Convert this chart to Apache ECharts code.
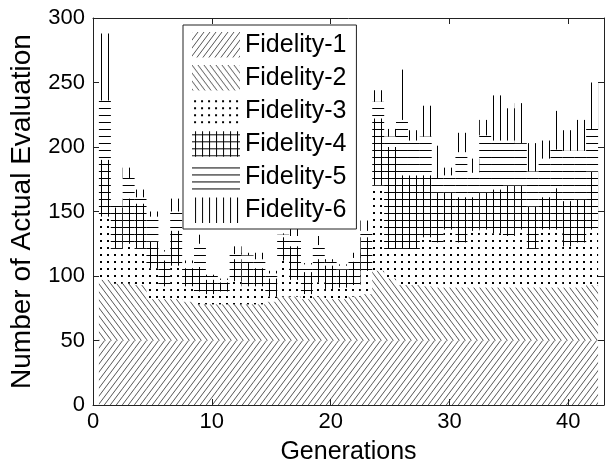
<!DOCTYPE html>
<html>
<head>
<meta charset="utf-8">
<script src="https://cdn.jsdelivr.net/npm/echarts@6/dist/echarts.min.js"></script>
<style>
html,body{margin:0;padding:0;background:#fff;}
#chart{width:609px;height:470px;}
</style>
</head>
<body>
<div id="chart"></div>
<script>
const generations = [1,2,3,4,5,6,7,8,9,10,11,12,13,14,15,16,17,18,19,20,21,22,23,24,25,26,27,28,29,30,31,32,33,34,35,36,37,38,39,40,41,42];
const seriesNames = ['Fidelity-1','Fidelity-2','Fidelity-3','Fidelity-4','Fidelity-5','Fidelity-6'];
const fidelity1 = [50,50,50,50,50,50,50,50,50,50,50,50,50,50,50,50,50,50,50,50,50,50,50,50,50,50,50,50,50,50,50,50,50,50,50,50,50,50,50,50,50,50];
const fidelity2 = [47,44,44,43,32,32,32,30,28,28,28,28,28,28,30,34,34,32,34,32,32,34,36,54,48,43,43,42,41,41,41,41,41,41,41,41,41,41,41,41,41,43];
const fidelity3 = [49,27,31,28,24,10,26,12,10,8,10,18,14,14,4,28,13,4,11,8,9,9,18,66,23,28,28,38,35,45,35,44,45,42,40,45,30,45,45,32,35,43];
const fidelity4 = [44,32,35,35,21,20,27,14,19,11,7,17,18,14,14,18,26,17,18,18,14,18,26,52,79,57,57,48,39,29,35,26,29,34,39,34,33,25,32,35,33,45];
const fidelity5 = [46,5,16,5,19,7,15,4,18,3,2,4,6,7,4,2,8,6,11,3,3,3,5,13,8,43,27,30,11,13,35,19,44,38,35,33,27,30,30,39,38,33];
const fidelity6 = [52,0,8,6,4,1,10,2,7,1,1,6,2,5,2,1,14,1,7,2,1,4,8,9,6,39,8,24,25,6,15,11,12,35,25,31,22,14,30,16,24,36];
const xTicks = [0,10,20,30,40];
const yTicks = [0,50,100,150,200,250,300];
const xMin = 0, xMax = 43;

const layers = [fidelity1,fidelity2,fidelity3,fidelity4,fidelity5,fidelity6];

const xCategories = [];
for (let k = xMin; k <= xMax; k++) xCategories.push(String(k));

function makePattern(kind) {
  const c = document.createElement('canvas');
  const ctx = c.getContext('2d');
  ctx.strokeStyle = '#333';
  ctx.fillStyle = '#111';
  ctx.lineWidth = 1;
  if (kind === 'fwd' || kind === 'back') {
    const w = 6, h = 8;
    c.width = w; c.height = h;
    ctx.strokeStyle = '#555';
    ctx.beginPath();
    if (kind === 'fwd') {
      for (let k = -1; k <= 1; k++) { ctx.moveTo(k*w, h); ctx.lineTo(k*w + w, 0); }
    } else {
      for (let k = -1; k <= 1; k++) { ctx.moveTo(k*w, 0); ctx.lineTo(k*w + w, h); }
    }
    ctx.stroke();
  } else if (kind === 'dots') {
    c.width = 7; c.height = 7;
    ctx.fillRect(2, 2, 2, 2);
  } else if (kind === 'grid') {
    c.width = 7; c.height = 7;
    ctx.beginPath();
    ctx.moveTo(3.5, 0); ctx.lineTo(3.5, 7);
    ctx.moveTo(0, 3.5); ctx.lineTo(7, 3.5);
    ctx.stroke();
  } else if (kind === 'horiz') {
    c.width = 7; c.height = 7;
    ctx.beginPath();
    ctx.moveTo(0, 3.5); ctx.lineTo(7, 3.5);
    ctx.stroke();
  } else if (kind === 'vert') {
    c.width = 7; c.height = 7;
    ctx.beginPath();
    ctx.moveTo(3.5, 0); ctx.lineTo(3.5, 7);
    ctx.stroke();
  }
  return { image: c, repeat: 'repeat' };
}
const patternKinds = ['fwd','back','dots','grid','horiz','vert'];

const gridLeft = 90, gridRight = 5, gridTop = 18, gridBottom = 58;
const barW = (609 - gridLeft - gridRight) / (xMax - xMin);

const chart = echarts.init(document.getElementById('chart'), null, {renderer: 'canvas'});

function seriesData(vals) {
  const out = xCategories.map(() => '-');
  generations.forEach((g, i) => { out[g - xMin] = vals[i]; });
  return out;
}

const series = seriesNames.map((name, s) => ({
  name: name,
  type: 'bar',
  stack: 'total',
  barWidth: barW,
  itemStyle: { color: makePattern(patternKinds[s]), borderWidth: 0 },
  emphasis: { disabled: true },
  data: seriesData(layers[s]),
  animation: false
}));

const isTick = (idx) => xTicks.indexOf(idx + xMin) >= 0;

const axisLineCommon = { show: true, onZero: false, lineStyle: { color: '#222', width: 1 } };
const tickCommon = { show: true, inside: true, length: 6, lineStyle: { color: '#222' } };

const option = {
  backgroundColor: '#fff',
  animation: false,
  textStyle: { fontFamily: 'Liberation Sans, Arial, sans-serif' },
  grid: { left: gridLeft, right: gridRight, top: gridTop, bottom: gridBottom, containLabel: false },
  legend: {
    data: seriesNames,
    orient: 'vertical',
    left: 183,
    top: 25,
    padding: [7, 10, 6, 9],
    itemGap: 7.6,
    itemWidth: 48,
    itemHeight: 25.5,
    icon: 'rect',
    backgroundColor: '#fff',
    borderColor: '#222',
    borderWidth: 1,
    borderRadius: 0,
    selectedMode: false,
    textStyle: { fontSize: 25, color: '#000', fontFamily: 'Liberation Sans, Arial, sans-serif' },
    z: 20
  },
  xAxis: [
    {
      type: 'category', data: xCategories, boundaryGap: false, position: 'bottom',
      name: 'Generations', nameLocation: 'middle', nameGap: 35,
      nameTextStyle: { fontSize: 25, color: '#000' },
      axisLine: axisLineCommon,
      axisTick: Object.assign({}, tickCommon, { interval: isTick, alignWithLabel: true }),
      axisLabel: { show: true, color: '#000', fontSize: 22, margin: 6, interval: isTick },
      splitLine: { show: false },
      z: 10
    },
    {
      type: 'category', data: xCategories, boundaryGap: false, position: 'top',
      axisLine: axisLineCommon,
      axisTick: Object.assign({}, tickCommon, { interval: isTick }),
      axisLabel: { show: false },
      splitLine: { show: false },
      z: 10
    }
  ],
  yAxis: [
    {
      type: 'value', min: 0, max: 300, interval: 50, position: 'left',
      name: 'Number of Actual Evaluation', nameLocation: 'middle', nameGap: 57,
      nameTextStyle: { fontSize: 28, color: '#000' },
      axisLine: axisLineCommon,
      axisTick: tickCommon,
      axisLabel: { show: true, color: '#000', fontSize: 22, margin: 8,
        formatter: v => (yTicks.indexOf(v) >= 0 ? String(v) : '') },
      splitLine: { show: false },
      z: 10
    },
    {
      type: 'value', min: 0, max: 300, interval: 50, position: 'right',
      axisLine: axisLineCommon,
      axisTick: tickCommon,
      axisLabel: { show: false },
      splitLine: { show: false },
      z: 10
    }
  ],
  series: series
};
chart.setOption(option);
</script>
</body>
</html>
